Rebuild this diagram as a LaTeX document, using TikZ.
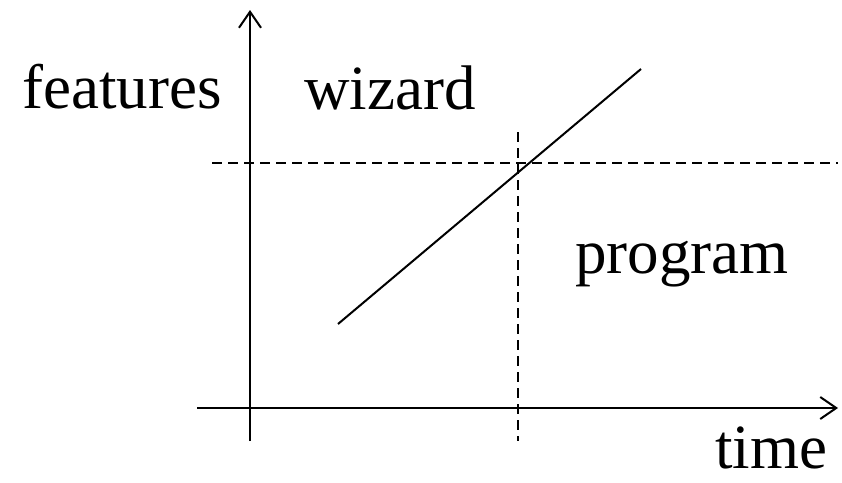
\documentclass[tikz,border=0pt]{standalone}
\usepackage{fontspec}
\setmainfont{Liberation Serif}
\usetikzlibrary{arrows.meta}
\begin{document}
\begin{tikzpicture}[x=1pt,y=-1pt,
  axis/.style={line width=2pt,-{Straight Barb[length=16pt,width=22pt,line width=2pt]}},
  guide/.style={line width=1.6pt,dash pattern=on 10pt off 6pt},
  trend/.style={line width=2pt},
  lbl/.style={anchor=base west,inner sep=0pt,font=\fontsize{63}{70}\selectfont}]
\useasboundingbox (0,0) rectangle (842,482);
\coordinate (yb) at (250,441);
\coordinate (yt) at (250,10);
\coordinate (xl) at (197,408);
\coordinate (xr) at (838,408);
\coordinate (hl) at (212,163);
\coordinate (hr) at (838,163);
\coordinate (vt) at (518,132);
\coordinate (vb) at (518,441);
\coordinate (d1) at (338,324);
\coordinate (d2) at (641,69);
\draw[axis] (yb) -- (yt);
\draw[axis] (xl) -- (xr);
\draw[guide] (hl) -- (hr);
\draw[guide] (vt) -- (vb);
\draw[trend] (d1) -- (d2);
\node[lbl] (features) at (22,108) {features};
\node[lbl] (wizard) at (304,109) {wizard};
\node[lbl] (program) at (575,273) {program};
\node[lbl] (time) at (715,468) {time};
\end{tikzpicture}
\end{document}
